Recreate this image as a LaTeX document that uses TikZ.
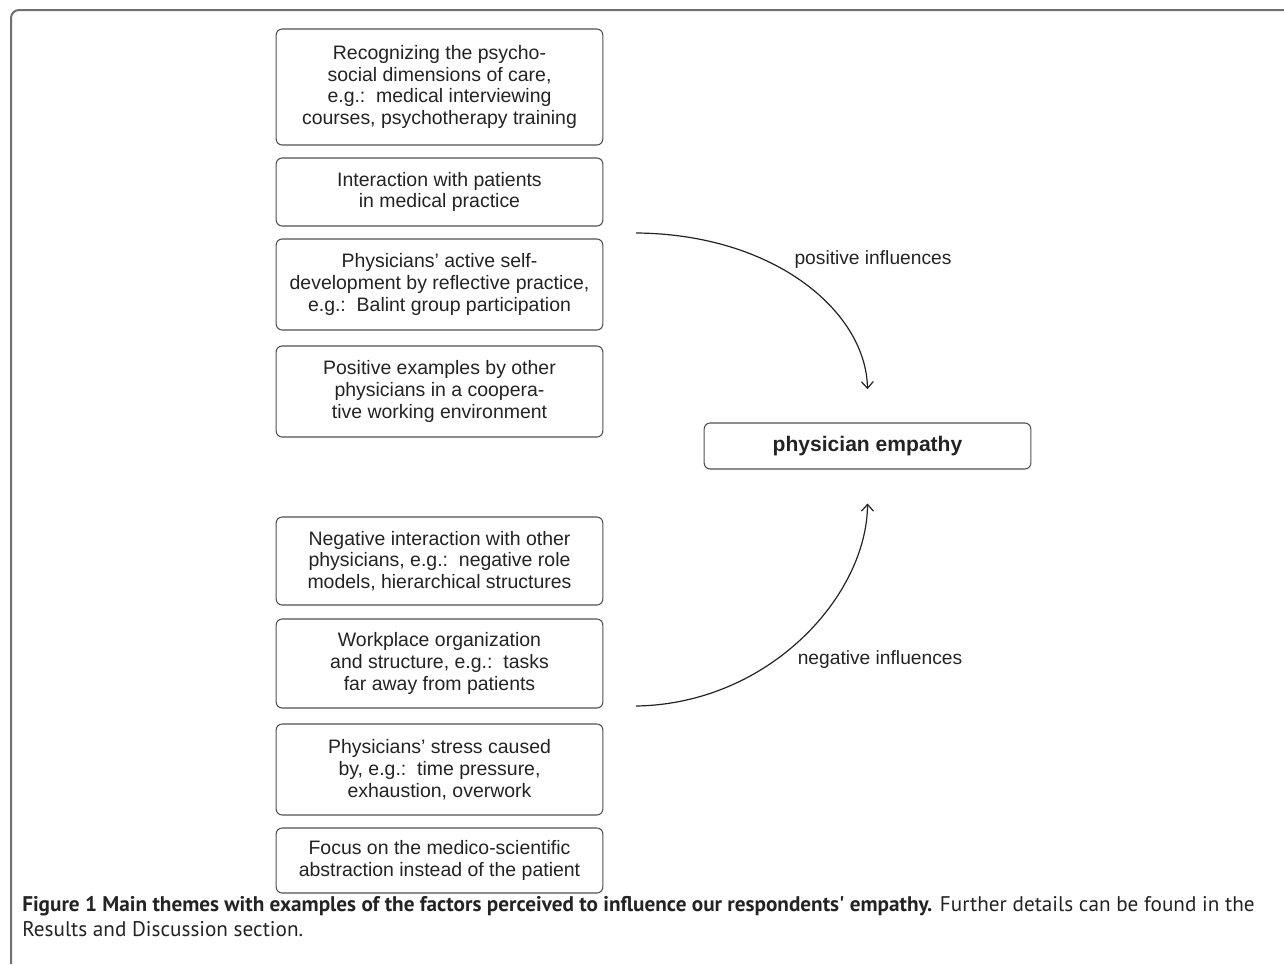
\documentclass[tikz,border=0pt]{standalone}
\usepackage{fontspec}
\setmainfont{Liberation Sans}
\newfontfamily\captionfont{PT Sans}
\usepackage{xcolor}
\usepackage{tikz}
\usetikzlibrary{arrows.meta}
\definecolor{framegray}{RGB}{112, 112, 112}
\definecolor{boxline}{RGB}{80, 80, 80}
\definecolor{ink}{RGB}{35, 35, 35}

\begin{document}
\begin{tikzpicture}[x=0.75pt, y=-0.75pt, >={Straight Barb[length=5pt, width=9pt]},
  factor/.style={draw=boxline, line width=0.8pt, rounded corners=4.5pt, minimum width=245pt,
    inner sep=0pt, align=center, text=ink, font=\fontsize{14.6}{16.3}\selectfont},
  influence/.style={->, line width=0.9pt, draw=ink},
  tag/.style={text=ink, font=\fontsize{14.4}{16}\selectfont}]
  \useasboundingbox (0,0) rectangle (1284,964);

  % Outer frame
  \draw[framegray, line width=1.5pt, rounded corners=6pt] (11,964) -- (11,10) -- (1284,10);

  % Positive factors
  \node[factor, minimum height=87pt] (recognize) at (439.5,87)
    {Recognizing the psycho-\\social dimensions of care,\\e.g.:\ \ medical interviewing\\courses, psychotherapy training};
  \node[factor, minimum height=51pt] (interact) at (439.5,192)
    {Interaction with patients\\in medical practice};
  \node[factor, minimum height=68.25pt] (selfdev) at (439.5,284.5)
    {Physicians' active self-\\development by reflective practice,\\e.g.:\ \ Balint group participation};
  \node[factor, minimum height=68.25pt] (examples) at (439.5,391.5)
    {Positive examples by other\\physicians in a coopera-\\tive working environment};

  % Negative factors
  \node[factor, minimum height=66pt] (rolemodel) at (439.5,561)
    {Negative interaction with other\\physicians, e.g.:\ \ negative role\\models, hierarchical structures};
  \node[factor, minimum height=66.75pt] (workplace) at (439.5,663.5)
    {Workplace organization\\and structure, e.g.:\ \ tasks\\far away from patients};
  \node[factor, minimum height=68.25pt] (stress) at (439.5,769.5)
    {Physicians' stress caused\\by, e.g.:\ \ time pressure,\\exhaustion, overwork};
  \node[factor, minimum height=48.75pt] (abstraction) at (439.5,860.5)
    {Focus on the medico-scientific\\abstraction instead of the patient};

  % Target
  \node[factor, minimum height=34.5pt, font=\fontsize{15.8}{18}\selectfont\bfseries] (empathy) at (867.5,446)
    {physician empathy};

  % Influences
  \coordinate (posStart) at (636,233);
  \coordinate (negStart) at (636,706);
  \coordinate (posEnd) at ([yshift=25pt]empathy.north);
  \coordinate (negEnd) at ([yshift=-25.5pt]empathy.south);
  \draw[influence] (posStart) .. controls (775,234) and (866,312) .. (posEnd);
  \draw[influence] (negStart) .. controls (770,704) and (867,595) .. (negEnd);
  \node[tag] (posTag) at (873,260) {positive influences};
  \node[tag] (negTag) at (880,660) {negative influences};

  % Caption
  \node[anchor=base west, align=left, inner sep=0pt, text=ink,
    font=\captionfont\fontsize{15.9}{18.75}\selectfont] (caption) at (22,936)
    {\textbf{Figure 1 Main themes with examples of the factors perceived to influence our respondents' empathy.} Further details can be found in the\\Results and Discussion section.};
\end{tikzpicture}
\end{document}
